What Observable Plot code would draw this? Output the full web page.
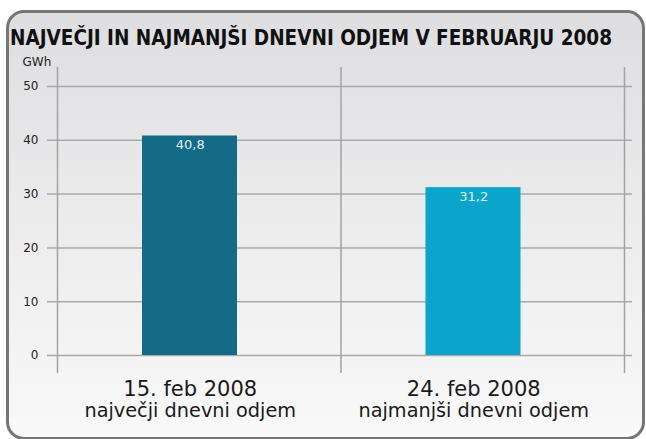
<!DOCTYPE html>
<html>
<head>
<meta charset="utf-8">
<script src="https://cdn.jsdelivr.net/npm/d3@7"></script>
<script src="https://cdn.jsdelivr.net/npm/@observablehq/plot@0.6"></script>
<style>
  html, body { margin: 0; padding: 0; background: #ffffff; }
  #wrap { position: relative; width: 646px; height: 439px; overflow: hidden; background: #fff; }
  #frame {
    position: absolute; left: 6px; top: 10px; width: 639px; height: 430px;
    box-sizing: border-box; border: 3px solid #767676; border-radius: 18px;
    background: linear-gradient(to bottom, #dedee1 0%, #ececed 50%, #f9f9f9 100%);
  }
  #title {
    position: absolute; left: 10px; top: 26px; line-height: 24px;
    font-family: "DejaVu Sans Condensed", "DejaVu Sans", sans-serif; font-stretch: condensed;
    font-weight: bold; font-size: 20.5px; color: #111; white-space: nowrap;
  }
  #chart { position: absolute; left: 0; top: 50px; }
</style>
</head>
<body>
<div id="wrap">
  <div id="frame"></div>
  <div id="title">NAJVEČJI IN NAJMANJŠI DNEVNI ODJEM V FEBRUARJU 2008</div>
  <div id="chart"></div>
</div>
<script>
const categories = ["15. feb 2008", "24. feb 2008"];
const descriptions = ["največji dnevni odjem", "najmanjši dnevni odjem"];
const values = [40.8, 31.2];
const valueLabels = ["40,8", "31,2"];
const barColors = ["#136b86", "#0ba4cb"];
const yTicks = [0, 10, 20, 30, 40, 50];
const unitLabel = "GWh";

const data = values.map((v, i) => ({
  i, v, label: valueLabels[i], color: barColors[i],
  cat: categories[i], desc: descriptions[i]
}));
const bounds = d3.range(categories.length + 1);

const chart = Plot.plot({
  width: 646,
  height: 389,
  marginTop: 36,
  marginBottom: 84,
  marginLeft: 57,
  marginRight: 22,
  style: { fontFamily: "DejaVu Sans, sans-serif", background: "transparent", color: "#222" },
  x: { domain: [0, categories.length], axis: null },
  y: { domain: [0, 50], ticks: yTicks, label: null },
  marks: [
    Plot.ruleY(yTicks, { stroke: "#a9a9a9", strokeWidth: 1.5, insetLeft: -10, insetRight: -8 }),
    Plot.ruleX(bounds, { stroke: "#a3a3a3", strokeWidth: 1.5, insetTop: -19, insetBottom: -18 }),
    Plot.axisY({ ticks: yTicks, tickSize: 0, tickPadding: 19, fontSize: 12, label: null }),
    Plot.rectY(data, { x: "i", interval: 1, y: "v", fill: "color", insetLeft: 94, insetRight: 94.5, dx: -9 }),
    Plot.text(data, { x: d => d.i + 0.5, y: "v", text: "label", dx: -9, dy: 4, lineAnchor: "top", fill: "#dff0f6", fontSize: 13 }),
    Plot.text(data, { x: d => d.i + 0.5, text: "cat", frameAnchor: "bottom", dx: -9, dy: 40, lineAnchor: "bottom", fontSize: 21, fill: "#1a1a1a" }),
    Plot.text(data, { x: d => d.i + 0.5, text: "desc", frameAnchor: "bottom", dx: -9, dy: 61, lineAnchor: "bottom", fontSize: 19.3, fill: "#1a1a1a" }),
    Plot.text([unitLabel], { frameAnchor: "top-left", dx: -35, dy: -21, textAnchor: "start", lineAnchor: "bottom", fontSize: 12, fill: "#222" })
  ]
});
document.getElementById("chart").appendChild(chart);
</script>
</body>
</html>
